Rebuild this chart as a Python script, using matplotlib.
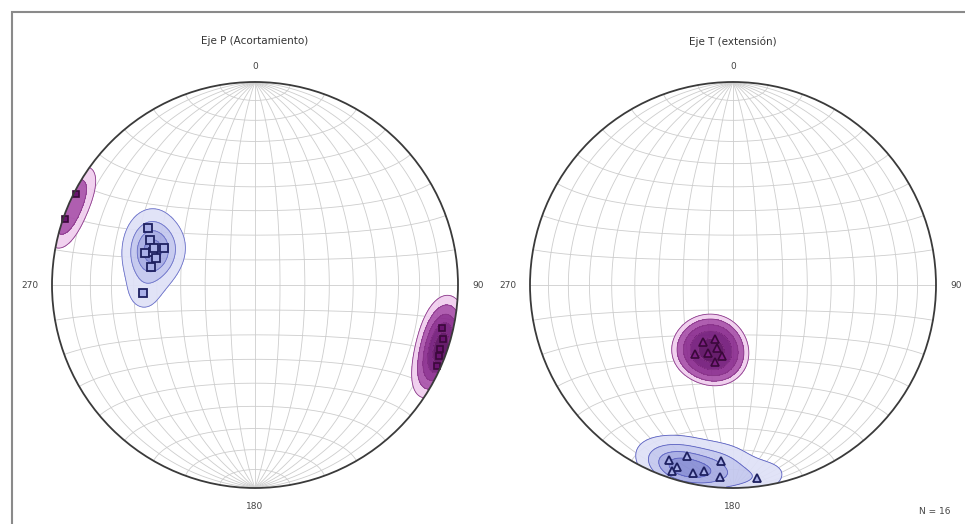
import numpy as np
import matplotlib
matplotlib.use('Agg')
import matplotlib.pyplot as plt
from matplotlib.patches import Circle, Rectangle

# P axes (trend, plunge in degrees), population 1 (blue) and 2 (purple)
p_blue_trend = [298, 286, 288, 292, 285, 280, 266, 293, 290]
p_blue_plunge = [40, 43, 46, 50, 48, 47, 44, 43, 46]
p_purple_trend = [103, 109, 114, 106, 111, 289, 297]
p_purple_plunge = [6, 4, 2, 4, 3, 1, 1]

# T axes
t_blue_trend = [200, 195, 197, 198, 192, 189, 184, 184, 173]
t_blue_plunge = [9, 14, 7, 4, 6, 8, 14, 6, 5]
t_purple_trend = [208, 194, 193, 209, 200, 189, 198]
t_purple_plunge = [64, 64, 58, 58, 61, 61, 67]

titles = ['Eje P (Acortamiento)', 'Eje T (extensión)']
dir_labels = ['0', '90', '180', '270']
n_total = 16

grid_color = '#cdcdcd'
blue_fills = ['#dfe1f7', '#c3c7ee', '#a4a9e2', '#868cd4']
purple_fills = ['#f0cdee', '#a850aa', '#8a2a8e', '#72187a', '#5a0a60']


def vec_project(e, n, d):
    # equal-area, lower hemisphere
    return e / np.sqrt(1 + d), n / np.sqrt(1 + d)


def to_vec(trend, plunge):
    t = np.radians(np.asarray(trend, float))
    p = np.radians(np.asarray(plunge, float))
    return np.cos(p) * np.sin(t), np.cos(p) * np.cos(t), np.sin(p)


def project(trend, plunge):
    return vec_project(*to_vec(trend, plunge))


def draw_net(ax):
    a = np.linspace(0, np.pi, 181)
    # great circles through N-S
    for dip in range(10, 90, 10):
        dr = np.radians(dip)
        for sgn in (1, -1):
            x, y = vec_project(np.sin(a) * np.cos(dr) * sgn, np.cos(a), np.sin(a) * np.sin(dr))
            ax.plot(x, y, color=grid_color, lw=0.6, zorder=1)
    # small circles about N-S axis
    for alpha in range(10, 180, 10):
        ar = np.radians(alpha)
        x, y = vec_project(np.sin(ar) * np.cos(a), np.full_like(a, np.cos(ar)), np.sin(ar) * np.sin(a))
        ax.plot(x, y, color=grid_color, lw=0.6, zorder=1)
    ax.plot([0, 0], [-1, 1], color=grid_color, lw=0.6, zorder=1)
    ax.add_patch(Circle((0, 0), 1, fill=False, ec='#3a3a3a', lw=1.3, zorder=6))


def density(trend, plunge, X, Y, k=90):
    r2 = X ** 2 + Y ** 2
    d = np.clip(1 - r2, -1, 1)
    e = X * np.sqrt(1 + d)
    n = Y * np.sqrt(1 + d)
    ve, vn, vd = to_vec(trend, plunge)
    dens = np.zeros_like(X)
    for a, b, c in zip(ve, vn, vd):
        dens += np.exp(k * (e * a + n * b + d * c - 1))
    dens[r2 > 1.0] = np.nan
    return dens / np.nanmax(dens)


def draw_contours(ax, trend, plunge, fills, line_color, levels, k=90):
    g = np.linspace(-1, 1, 401)
    X, Y = np.meshgrid(g, g)
    D = density(trend, plunge, X, Y, k)
    clip = Circle((0, 0), 1, transform=ax.transData)
    cf = ax.contourf(X, Y, D, levels=levels + [1.01], colors=fills, alpha=0.92, zorder=2)
    cl = ax.contour(X, Y, D, levels=levels, colors=line_color, linewidths=0.6, zorder=3)
    cf.set_clip_path(clip)
    cl.set_clip_path(clip)


fig = plt.figure(figsize=(9.65, 5.24), dpi=100)
W, H = 965, 524
R = 203
half = 1.3 * R
centers = [(255, 285), (733, 285)]
axes = []
for cx, cy in centers:
    ax = fig.add_axes([(cx - half) / W, (H - cy - half) / H, 2 * half / W, 2 * half / H])
    ax.set_xlim(-1.3, 1.3)
    ax.set_ylim(-1.3, 1.3)
    ax.set_aspect('equal')
    ax.axis('off')
    draw_net(ax)
    axes.append(ax)

ax1, ax2 = axes

# P axes
draw_contours(ax1, p_blue_trend, p_blue_plunge, blue_fills, '#6a70c8', [0.12, 0.35, 0.6, 0.85])
draw_contours(ax1, p_purple_trend, p_purple_plunge, purple_fills, '#8a3a8a', [0.1, 0.22, 0.4, 0.6, 0.82])
x, y = project(p_blue_trend, p_blue_plunge)
ax1.plot(x, y, 's', ms=5.5, mfc='#aab0e8', mec='#1e2060', mew=1.3, zorder=5)
x, y = project(p_purple_trend, p_purple_plunge)
ax1.plot(x, y, 's', ms=5, mfc='#6a1470', mec='#3a083a', mew=1.2, zorder=5)

# T axes
draw_contours(ax2, t_blue_trend, t_blue_plunge, blue_fills, '#5a60c0', [0.1, 0.3, 0.55, 0.8])
draw_contours(ax2, t_purple_trend, t_purple_plunge, purple_fills, '#8a3a8a', [0.1, 0.18, 0.32, 0.52, 0.78])
x, y = project(t_blue_trend, t_blue_plunge)
ax2.plot(x, y, '^', ms=6, mfc='#aab0e8', mec='#1e2060', mew=1.3, zorder=5)
x, y = project(t_purple_trend, t_purple_plunge)
ax2.plot(x, y, '^', ms=6, mfc='#7a2080', mec='#3a083a', mew=1.2, zorder=5)

for ax, title in zip(axes, titles):
    ax.text(0, 1.2, title, ha='center', va='center', fontsize=7.5, color='#333333')
    ax.text(0, 1.075, dir_labels[0], ha='center', va='center', fontsize=6.5, color='#444444')
    ax.text(1.1, 0, dir_labels[1], ha='center', va='center', fontsize=6.5, color='#444444')
    ax.text(0, -1.09, dir_labels[2], ha='center', va='center', fontsize=6.5, color='#444444')
    ax.text(-1.11, 0, dir_labels[3], ha='center', va='center', fontsize=6.5, color='#444444')

fig.text(935 / W, 1 - 511 / H, f'N = {n_total}', ha='center', va='center', fontsize=6.5, color='#444444')

fig.add_artist(Rectangle((12 / W, -0.05), 1.0, 1 - 12 / H + 0.05, transform=fig.transFigure,
                         fill=False, ec='#8a8a8a', lw=1.5))

fig.savefig('out.png', dpi=100)
